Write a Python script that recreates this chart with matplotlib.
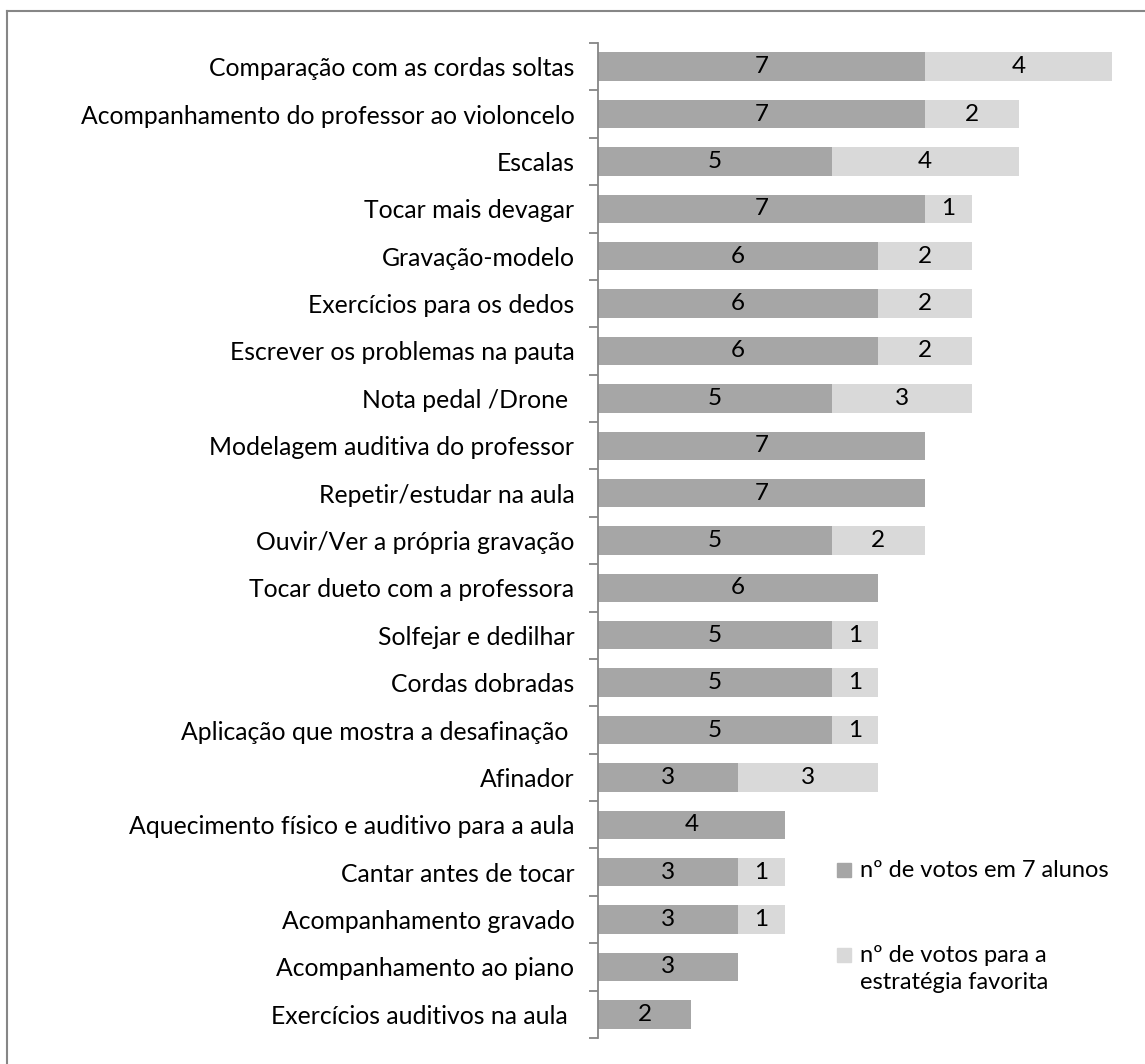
import matplotlib.pyplot as plt
from matplotlib.patches import Rectangle
from matplotlib.lines import Line2D

plt.rcParams['font.family'] = ['Lato', 'DejaVu Sans']

strategies = [
    'Comparação com as cordas soltas',
    'Acompanhamento do professor ao violoncelo',
    'Escalas',
    'Tocar mais devagar',
    'Gravação-modelo',
    'Exercícios para os dedos',
    'Escrever os problemas na pauta',
    'Nota pedal /Drone ',
    'Modelagem auditiva do professor',
    'Repetir/estudar na aula',
    'Ouvir/Ver a própria gravação',
    'Tocar dueto com a professora',
    'Solfejar e dedilhar',
    'Cordas dobradas',
    'Aplicação que mostra a desafinação ',
    'Afinador',
    'Aquecimento físico e auditivo para a aula',
    'Cantar antes de tocar',
    'Acompanhamento gravado',
    'Acompanhamento ao piano',
    'Exercícios auditivos na aula ',
]
votos = [7, 7, 5, 7, 6, 6, 6, 5, 7, 7, 5, 6, 5, 5, 5, 3, 4, 3, 3, 3, 2]
favorita = [4, 2, 4, 1, 2, 2, 2, 3, 0, 0, 2, 0, 1, 1, 1, 3, 0, 1, 1, 0, 0]
legend_labels = ['nº de votos em 7 alunos', 'nº de votos para a\nestratégia favorita']

c_dark = '#A6A6A6'
c_light = '#D9D9D9'
axis_grey = '#868686'

fig = plt.figure(figsize=(11.45, 10.64), dpi=100)
ax = fig.add_axes([598 / 1145, 1 - 1038 / 1064, 514 / 1145, 995 / 1064])

y = list(range(len(strategies)))
b1 = ax.barh(y, votos, height=0.6, color=c_dark)
b2 = ax.barh(y, favorita, left=votos, height=0.6, color=c_light)

for bars, vals in ((b1, votos), (b2, favorita)):
    for bar, v in zip(bars, vals):
        if v == 0:
            continue
        ax.text(bar.get_x() + bar.get_width() / 2, bar.get_y() + bar.get_height() / 2,
                str(v), ha='center', va='center', fontsize=17.5, color='black')

ax.set_xlim(0, 11)
ax.set_ylim(len(strategies) - 0.5, -0.5)
ax.set_yticks(y)
ax.set_yticklabels(strategies, fontsize=17.8)
ax.set_yticks([k + 0.5 for k in range(-1, len(strategies))], minor=True)
ax.tick_params(axis='y', which='major', length=0, pad=17)
ax.tick_params(axis='y', which='minor', length=6.5, width=1.3, color=axis_grey)
ax.set_xticks([])
for s in ('top', 'right', 'bottom'):
    ax.spines[s].set_visible(False)
ax.spines['left'].set_color(axis_grey)
ax.spines['left'].set_linewidth(1.3)

# legend drawn by hand so the swatch lines up with the first text line
sw = 14 / 1145
sh = 14 / 1064
for (yy, col, lab) in ((870, c_dark, legend_labels[0]), (955, c_light, legend_labels[1])):
    fig.patches.append(Rectangle((837 / 1145, 1 - yy / 1064 - sh / 2), sw, sh,
                                 transform=fig.transFigure, color=col))
    fig.text(860 / 1145, 1 - (yy - 10) / 1064, lab, ha='left', va='top',
             fontsize=17, linespacing=1.38)

# chart area border
fig.add_artist(Line2D([7 / 1145, 7 / 1145], [0, 1 - 11 / 1064], transform=fig.transFigure,
                      color=axis_grey, lw=1.5))
fig.add_artist(Line2D([7 / 1145, 1], [1 - 11 / 1064, 1 - 11 / 1064], transform=fig.transFigure,
                      color=axis_grey, lw=1.5))

fig.savefig('out.png', dpi=100)
